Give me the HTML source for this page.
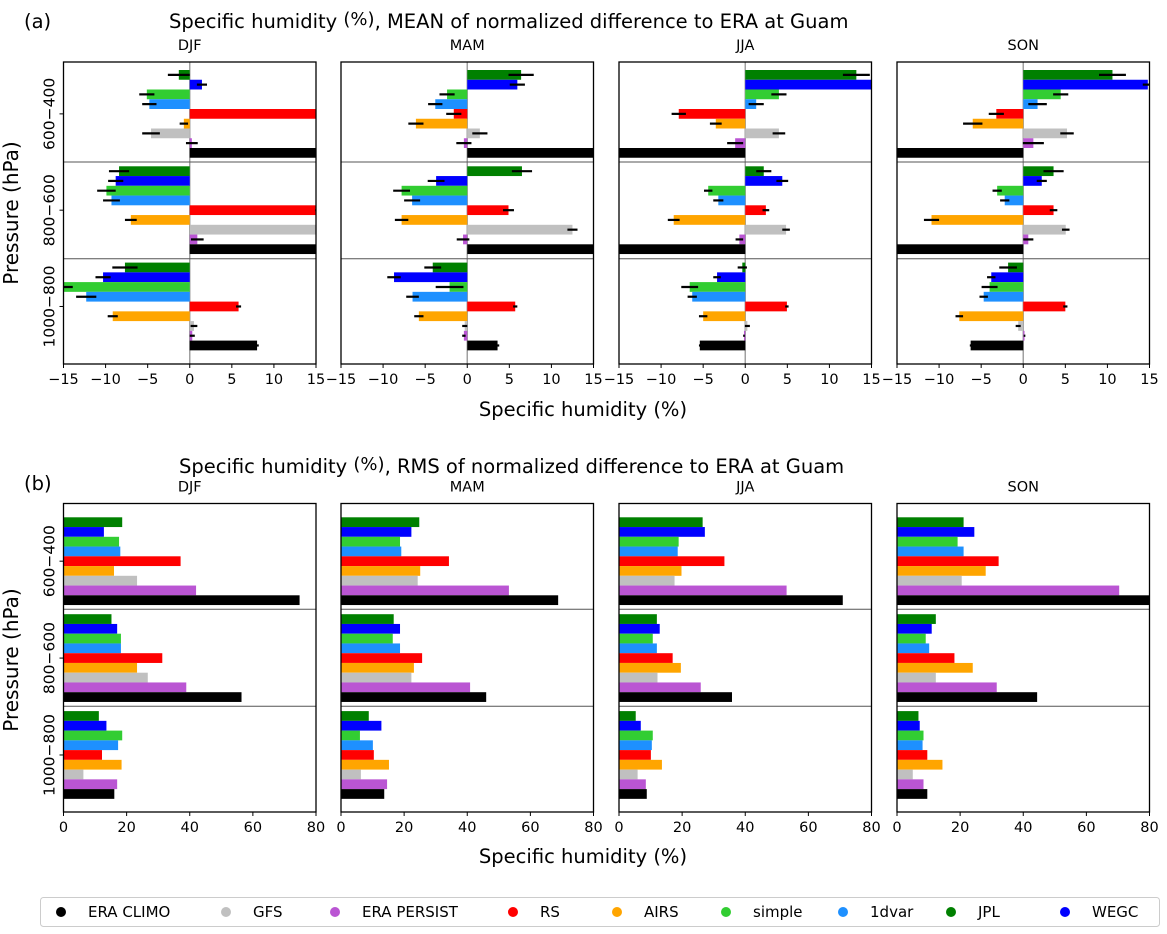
<!DOCTYPE html>
<html><head><meta charset="utf-8"><style>
html,body{margin:0;padding:0;background:#fff}
svg{display:block}
text{font-family:"DejaVu Sans","Liberation Sans",sans-serif;fill:#000}
</style></head><body>
<svg id="fig" width="1167" height="934" viewBox="0 0 1167 934" xmlns="http://www.w3.org/2000/svg">
<text x="24" y="28" font-size="19.5">(a)</text>
<text x="169" y="28" font-size="19.5">Specific humidity <tspan font-size="18" dy="-3">(%)</tspan><tspan dy="3">, MEAN of normalized difference to ERA at Guam</tspan></text>
<text x="24" y="490" font-size="19.5">(b)</text>
<text x="179" y="473" font-size="19.5">Specific humidity <tspan font-size="18" dy="-3">(%)</tspan><tspan dy="3">, RMS of normalized difference to ERA at Guam</tspan></text>
<text transform="translate(18,213) rotate(-90)" font-size="20" text-anchor="middle">Pressure (hPa)</text>
<text transform="translate(18,660) rotate(-90)" font-size="20" text-anchor="middle">Pressure (hPa)</text>
<text x="583" y="416" font-size="19.5" text-anchor="middle">Specific humidity (%)</text>
<text x="583" y="863" font-size="19.5" text-anchor="middle">Specific humidity (%)</text>
<g id="plots"></g>
<g id="legend"></g>
</svg>
<script>
// categories
const seasons = ["DJF","MAM","JJA","SON"];
const levels = ["600\u2212400","800\u2212600","1000\u2212800"];
const seriesNames = ["JPL","WEGC","simple","1dvar","RS","AIRS","GFS","ERA PERSIST","ERA CLIMO"];
const seriesColors = ["#008000","#0000ff","#32cd32","#1e90ff","#ff0000","#ffa500","#c0c0c0","#ba55d3","#000000"];
const legendOrder = ["ERA CLIMO","GFS","ERA PERSIST","RS","AIRS","simple","1dvar","JPL","WEGC"];
// tick labels
const meanTicks = [-15,-10,-5,0,5,10,15];
const rmsTicks = [0,20,40,60,80];
// MEAN values [level][series]
const meanDJF = [[-1.3,1.45,-5.1,-4.8,20,-0.7,-4.6,0.25,25],[-8.4,-8.8,-9.9,-9.3,15.2,-7.0,20,0.9,25],[-7.7,-10.3,-15.5,-12.3,5.8,-9.15,0.5,0.3,8.0]];
const meanMAM = [[6.4,5.95,-2.4,-3.8,-1.6,-6.1,1.5,-0.4,25],[6.5,-3.7,-7.8,-6.55,4.9,-7.8,12.5,-0.5,25],[-4.1,-8.7,-2.1,-6.5,5.7,-5.75,-0.3,-0.4,3.6]];
const meanJJA = [[13.2,16,4.0,1.3,-7.9,-3.5,4.0,-1.2,-25],[2.2,4.4,-4.4,-3.2,2.45,-8.5,4.85,-0.7,-25],[-0.35,-3.35,-6.6,-6.3,4.95,-5.0,0.25,-0.15,-5.4]];
const meanSON = [[10.6,14.8,4.45,1.7,-3.2,-6.0,5.2,1.2,-25],[3.6,2.2,-3.1,-2.2,3.6,-10.9,5.05,0.6,-25],[-1.8,-3.8,-4.0,-4.7,5.0,-7.6,-0.6,0.15,-6.25]];
// MEAN error half-widths
const errDJF = [[1.3,0.6,0.9,0.85,0.5,0.5,1.05,0.7,0.5],[1.2,0.9,1.1,1.0,0.3,0.7,0.5,0.75,0.5],[1.5,0.9,1.6,1.2,0.3,0.6,0.4,0.3,0.2]];
const errMAM = [[1.5,0.9,0.9,0.85,0.9,0.9,0.9,0.9,0.5],[1.2,1.0,1.0,0.95,0.65,0.8,0.6,0.75,0.5],[1.0,0.8,1.65,0.75,0.25,0.55,0.3,0.2,0.2]];
const errJJA = [[1.6,0.5,0.9,0.9,0.85,0.7,0.75,0.95,0.5],[0.9,0.7,0.5,0.6,0.4,0.7,0.45,0.45,0.5],[0.55,0.45,1.0,0.55,0.2,0.5,0.3,0.1,0.1]];
const errSON = [[1.6,0.6,0.9,1.1,0.9,1.15,0.8,1.25,0.5],[1.2,0.6,0.55,0.55,0.45,0.9,0.45,0.6,0.5],[1.05,0.5,0.95,0.5,0.25,0.45,0.3,0.1,0.1]];
// RMS values [level][series]
const rmsDJF = [[18.6,12.8,17.6,18.0,37.1,16.0,23.3,42.0,74.8],[15.2,17.0,18.2,18.2,31.3,23.3,26.7,38.9,56.4],[11.2,13.6,18.6,17.3,12.2,18.4,6.3,17.0,16.1]];
const rmsMAM = [[24.8,22.3,18.7,19.1,34.2,25.1,24.3,53.2,68.8],[16.7,18.7,16.4,18.7,25.7,23.1,22.3,40.9,46.0],[8.8,12.8,6.0,10.1,10.4,15.2,6.3,14.6,13.7]];
const rmsJJA = [[26.5,27.2,18.9,18.6,33.4,19.8,17.6,53.1,70.9],[12.0,12.9,10.7,12.0,17.0,19.6,12.2,25.9,35.8],[5.3,6.9,10.7,10.4,10.1,13.6,5.9,8.5,8.8]];
const rmsSON = [[21.1,24.5,19.2,21.1,32.2,28.1,20.5,70.4,82],[12.3,11.0,9.1,10.2,18.2,24.0,12.3,31.6,44.4],[6.8,7.2,8.4,8.1,9.6,14.4,5.0,8.4,9.6]];

const meanData = [meanDJF,meanMAM,meanJJA,meanSON];
const errData = [errDJF,errMAM,errJJA,errSON];
const rmsData = [rmsDJF,rmsMAM,rmsJJA,rmsSON];

const NS = "http://www.w3.org/2000/svg";
const plots = document.getElementById("plots");
const defs = document.createElementNS(NS,"defs");
document.getElementById("fig").appendChild(defs);
function mk(tag, attrs, parent){const e=document.createElementNS(NS,tag);for(const k in attrs)e.setAttribute(k,attrs[k]);(parent||plots).appendChild(e);return e;}

const lefts=[63.5,341,619,897], W=252.5;

function drawPanel(kind, si, top, bottom, firstBar, groupStep, dividers, xmin, xmax, ticks){
  const L=lefts[si], R=L+W;
  const xs = v => L + (v-xmin)/(xmax-xmin)*W;
  const pitch=9.75;
  const g=mk("g",{});
  
  
  const cid="clip-"+kind+si;
  const cp=mk("clipPath",{id:cid},defs);
  mk("rect",{x:L,y:top,width:W,height:bottom-top},cp);
  const inner=mk("g",{"clip-path":"url(#"+cid+")"},g);
  if(kind==="mean"){
    const zl=mk("line",{x1:xs(0),x2:xs(0),y1:top,y2:bottom,stroke:"#a0a0a0","stroke-width":1.5},inner);
    
    
  }
  const data = kind==="mean"?meanData[si]:rmsData[si];
  for(let gi=0;gi<3;gi++){
    for(let k=0;k<9;k++){
      const v=data[gi][k];
      const y=firstBar+gi*groupStep+k*pitch;
      const x0=xs(0), x1=xs(v);
      const b=mk("rect",{x:Math.min(x0,x1),y:y,width:Math.abs(x1-x0),height:pitch,fill:seriesColors[k]},inner);
      
      
      if(kind==="mean"){
        const e=errData[si][gi][k];
        const el=mk("line",{x1:xs(v-e),x2:xs(v+e),y1:y+pitch/2,y2:y+pitch/2,stroke:"#000","stroke-width":2.2},inner);
        
        
      }
    }
  }
  dividers.forEach(d=>{
    const dl=mk("line",{x1:L,x2:R,y1:d,y2:d,stroke:"#555","stroke-width":1},g);
    
    
  });
  const fr=mk("rect",{x:L,y:top,width:W,height:bottom-top,fill:"none",stroke:"#000","stroke-width":1.3},g);
  
  
  ticks.forEach(t=>{
    const tx=xs(t);
    mk("line",{x1:tx,x2:tx,y1:bottom,y2:bottom+4,stroke:"#000","stroke-width":1},g);
    const lb=mk("text",{x:tx,y:bottom+20,"font-size":14.5,"text-anchor":"middle"},g);
    lb.textContent = t<0?"\u2212"+Math.abs(t):String(t);
    
    
  });
  const st=mk("text",{x:L+W/2,y:top-12,"font-size":14.5,"text-anchor":"middle"},g);
  st.textContent=seasons[si];
  
  
  if(si===0){
    for(let gi=0;gi<3;gi++){
      const cy=firstBar+gi*groupStep+4.5*pitch;
      mk("line",{x1:L-4,x2:L,y1:cy,y2:cy,stroke:"#000","stroke-width":1},g);
      const yl=mk("text",{transform:"translate("+(L-9)+","+cy+") rotate(-90)","font-size":15.5,"text-anchor":"middle"},g);
      yl.textContent=levels[gi];
      
      
    }
  }
}
for(let s=0;s<4;s++){
  drawPanel("mean",s,62,364,70,96.3,[162,258.7],-15,15,meanTicks);
  drawPanel("rms",s,503.5,812,517.3,96.9,[609.3,706.3],0,80,rmsTicks);
}
// legend
const lg=document.getElementById("legend");
mk("rect",{x:40.5,y:897.5,width:1119,height:29,rx:3,fill:"#fff",stroke:"#ccc","stroke-width":1},lg);
const legMarkX=[61,226,335,513,617,726,843,951,1065];
legendOrder.forEach((n,i)=>{
  const k=seriesNames.indexOf(n);
  const eg=mk("g",{},lg);
  
  
  mk("circle",{cx:legMarkX[i],cy:912,r:5,fill:seriesColors[k]},eg);
  const t=mk("text",{x:legMarkX[i]+27,y:917,"font-size":15},eg);
  t.textContent=n;
});
</script>
</body></html>
